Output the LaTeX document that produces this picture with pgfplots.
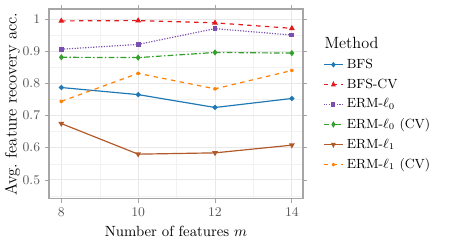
\documentclass[border=0pt]{standalone}
\usepackage{pgfplots}
\pgfplotsset{compat=1.18}
\definecolor{cblue}{HTML}{1F78B4}
\definecolor{cred}{HTML}{E31A1C}
\definecolor{cpurple}{HTML}{7A4FB0}
\definecolor{cgreen}{HTML}{33A02C}
\definecolor{cbrown}{HTML}{B15928}
\definecolor{corange}{HTML}{FF7F00}
\begin{document}
\begin{tikzpicture}
\begin{axis}[
  name=ax,
  scale only axis,
  width=172pt, height=128.6pt,
  xmin=7.68, xmax=14.29,
  ymin=0.441, ymax=1.031,
  xtick={8,10,12,14},
  minor xtick={9,11,13},
  ytick={0.5,0.6,0.7,0.8,0.9,1},
  yticklabels={0.5,0.6,0.7,0.8,0.9,1},
  minor ytick={0.45,0.55,0.65,0.75,0.85,0.95},
  grid=both,
  major grid style={gray!18, line width=0.6pt},
  minor grid style={gray!10, line width=0.3pt},
  axis line style={gray!70, line width=0.8pt},
  tick style={gray!70, line width=0.5pt},
  tick align=outside,
  major tick length=2.5pt,
  minor tick length=0pt,
  ticklabel style={text=gray!70!black, font=\small},
  xlabel={Number of features $m$},
  ylabel={Avg.\ feature recovery acc.},
  xlabel style={font=\normalsize, yshift=0.5pt},
  ylabel style={font=\fontsize{11.2}{13}\selectfont, yshift=-5pt},
  legend style={draw=none, at={(1.06,0.5)}, anchor=west, font=\small,
    row sep=1.6pt, legend cell align=left},
  legend image post style={xscale=0.78},
  every axis plot/.append style={line width=0.8pt, mark size=1.3pt},
]
\addlegendimage{empty legend}
\addlegendentry{\hspace{-15pt}\fontsize{11}{13}\selectfont Method}
\addplot[cblue, solid, mark=*] coordinates {(8,0.787) (10,0.765) (12,0.725) (14,0.753)};
\addlegendentry{BFS}
\addplot[cred, dashed, mark=triangle*, mark size=1.5pt, mark options={solid}] coordinates {(8,0.994) (10,0.995) (12,0.988) (14,0.971)};
\addlegendentry{BFS-CV}
\addplot[cpurple, densely dotted, mark=square*, mark size=1.2pt, mark options={solid}] coordinates {(8,0.906) (10,0.921) (12,0.970) (14,0.950)};
\addlegendentry{ERM-$\ell_0$}
\addplot[cgreen, dash pattern=on 4pt off 1.5pt on 1pt off 1.5pt, mark=diamond*, mark size=1.5pt, mark options={solid}] coordinates {(8,0.881) (10,0.880) (12,0.896) (14,0.894)};
\addlegendentry{ERM-$\ell_0$ (CV)}
\addplot[cbrown, solid, mark=triangle*, mark size=1.5pt, mark options={solid, rotate=180}] coordinates {(8,0.675) (10,0.580) (12,0.584) (14,0.608)};
\addlegendentry{ERM-$\ell_1$}
\addplot[corange, dashed, mark=asterisk, mark size=1.2pt, mark options={solid}] coordinates {(8,0.744) (10,0.831) (12,0.783) (14,0.840)};
\addlegendentry{ERM-$\ell_1$ (CV)}
\end{axis}
\pgfresetboundingbox
\path ([xshift=-33.2pt, yshift=-29.8pt]ax.south west) rectangle ([xshift=104.3pt, yshift=6.1pt]ax.north east);
\end{tikzpicture}
\end{document}
